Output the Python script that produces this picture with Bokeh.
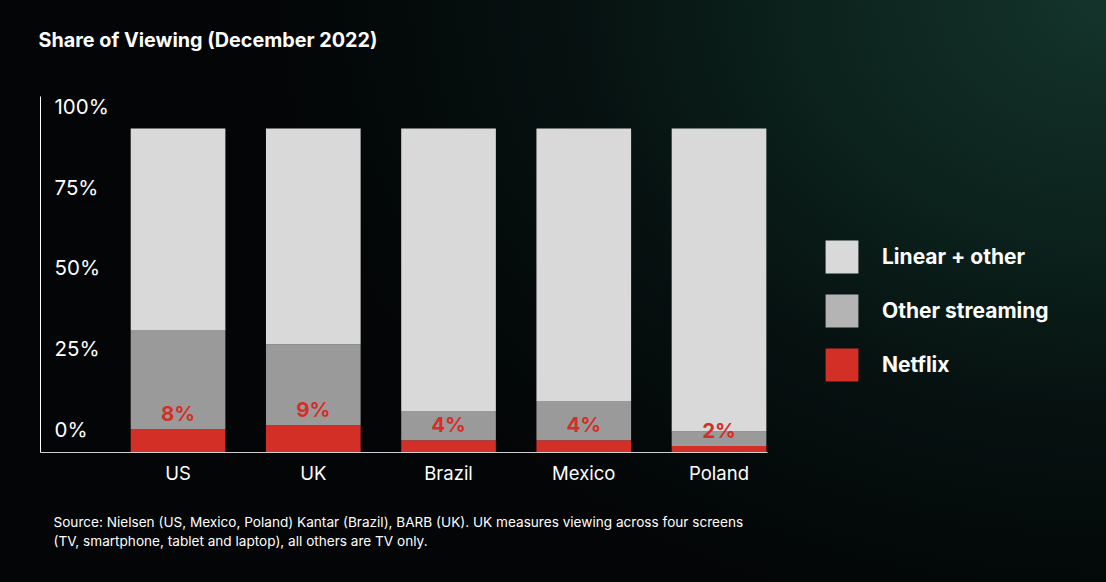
import numpy as np
from bokeh.plotting import figure
from bokeh.models import (Range1d, FixedTicker, Legend, LegendItem, Title,
                          ColumnDataSource, GlobalInlineStyleSheet)
from bokeh.core.properties import value
from bokeh.embed import file_html
from bokeh.resources import INLINE

# ---------------- data ----------------
countries = ["US", "UK", "Brazil", "Mexico", "Poland"]
netflix = [7.2, 8.4, 3.8, 3.8, 2.0]
other_streaming = [30.6, 25.0, 9.0, 12.1, 4.5]
linear_other = [round(100 - n - o, 1) for n, o in zip(netflix, other_streaming)]
netflix_labels = ["8%", "9%", "4%", "4%", "2%"]
tick_values = [0, 25, 50, 75, 100]
tick_labels = ["0%", "25%", "50%", "75%", "100%"]
legend_names = ["Linear + other", "Other streaming", "Netflix"]
title_text = "Share of Viewing (December 2022)"
source_lines = [
    "Source: Nielsen (US, Mexico, Poland) Kantar (Brazil), BARB (UK). UK measures viewing across four screens",
    "(TV, smartphone, tablet and laptop), all others are TV only.",
]

# ---------------- style ----------------
FONT = "Inter"
C_LINEAR = "#d9d9d9"
C_OTHER = "#9a9a9a"
C_OTHER_LEG = "#b4b4b4"
C_NETFLIX = "#d32f27"
WHITE = "#ffffff"

xpos = list(range(len(countries)))
src = ColumnDataSource(dict(x=xpos, netflix=netflix, other=other_streaming,
                            linear=linear_other, lbl=netflix_labels))

# frame spans to the right edge so the legend can sit inside it;
# the bottom axis line is limited to the bar area via axis bounds
X0, X_AXIS_END, X1 = -1.017, 4.359, 6.865
p = figure(width=1106, height=582, output_backend="svg", toolbar_location=None,
           title=None,
           x_range=Range1d(X0, X1), y_range=Range1d(0, 109.9),
           min_border_left=40, min_border_right=0, min_border_top=96,
           min_border_bottom=130,
           background_fill_color=None, border_fill_color=None,
           outline_line_color=None)
p.extra_y_ranges = {"ticks": Range1d(-7.1, 103.0)}
p.grid.visible = False

# x axis
xa = p.xaxis[0]
xa.bounds = (X0, X_AXIS_END)
xa.ticker = FixedTicker(ticks=xpos)
xa.major_label_overrides = {i: c for i, c in zip(xpos, countries)}
xa.major_tick_line_color = None
xa.minor_tick_line_color = None
xa.axis_line_color = "#d0d0d0"
xa.major_label_text_color = WHITE
xa.major_label_text_font = FONT
xa.major_label_text_font_size = "18.5px"
xa.major_label_standoff = 3

# y axis (line only)
ya = p.yaxis[0]
ya.ticker = FixedTicker(ticks=[])
ya.axis_line_color = WHITE
ya.major_tick_line_color = None
ya.minor_tick_line_color = None
ya.major_label_text_font_size = "0px"

# stacked bars
bars = p.vbar_stack(["netflix", "other", "linear"], x="x", width=0.7, source=src,
                    fill_color=[C_NETFLIX, C_OTHER, C_LINEAR], line_color=None)

# netflix value labels
p.text(x="x", y="netflix", text="lbl", source=src, y_offset=-16,
       text_align="center", text_baseline="middle", text_color=C_NETFLIX,
       text_font=value(FONT), text_font_style="bold", text_font_size="20.5px")

# y tick labels (offset axis as in original slide)
tsrc = ColumnDataSource(dict(x=[X0] * len(tick_values), y=tick_values, t=tick_labels))
p.text(x="x", y="y", text="t", source=tsrc, y_range_name="ticks", x_offset=14,
       text_align="left", text_baseline="middle", text_color=WHITE,
       text_font=value(FONT), text_font_size="20.5px")

# legend: the slide uses a lighter swatch for "Other streaming"
other_swatch = p.vbar(x=[np.nan], top=[np.nan], width=0.7,
                      fill_color=C_OTHER_LEG, line_color=None)
items = [LegendItem(label=legend_names[0], renderers=[bars[2]]),
         LegendItem(label=legend_names[1], renderers=[other_swatch]),
         LegendItem(label=legend_names[2], renderers=[bars[0]])]
legend = Legend(items=items, location=(781, 67), glyph_width=41, glyph_height=41,
                label_standoff=20, spacing=13, padding=0, margin=0,
                border_line_color=None, background_fill_alpha=0,
                label_text_color=WHITE, label_text_font=FONT,
                label_text_font_style="bold", label_text_font_size="21px")
p.add_layout(legend, "center")

# title (spacer next to the frame, then the title itself)
p.add_layout(Title(text=" ", text_font_size="20px", standoff=21,
                   text_color=WHITE), "above")
p.add_layout(Title(text=title_text, align="left", offset=-2, text_font=FONT,
                   text_font_size="19.8px", text_font_style="bold",
                   text_color=WHITE, standoff=0), "above")

# source note (spacer next to the axis, then two lines)
p.add_layout(Title(text=" ", text_font_size="13.6px", standoff=8,
                   text_color=WHITE), "below")
for line in source_lines:
    p.add_layout(Title(text=line, align="left", offset=13, text_font=FONT,
                       text_font_size="13.6px", text_font_style="normal",
                       text_color=WHITE, standoff=1), "below")

css = """
html { background: radial-gradient(ellipse 75% 110% at 100% 0%, #14342b 0%, #0c231d 35%, #061110 65%, #030506 100%); background-color: #030506; min-height: 100%; }
body { background: transparent; }
"""
p.stylesheets = [GlobalInlineStyleSheet(css=css)]

open("out.html", "w").write(file_html(p, INLINE))
